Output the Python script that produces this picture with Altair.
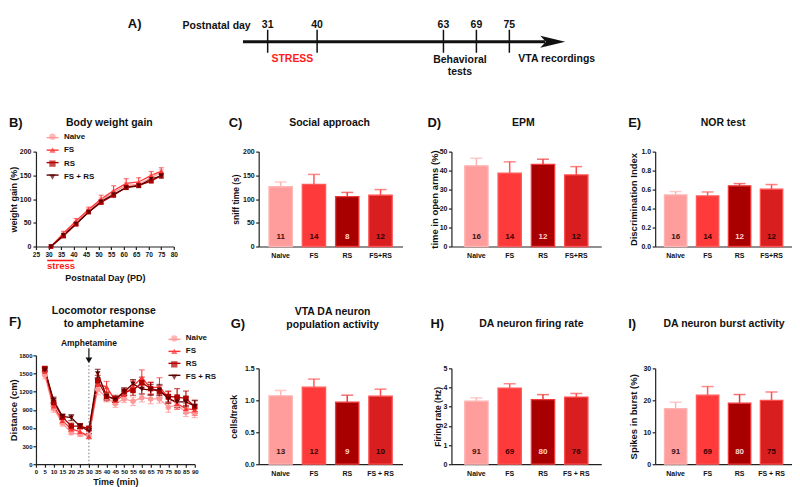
import altair as alt
import pandas as pd

FONT = "Liberation Sans"
INK = "#111111"
RED = "#FF1A1A"

# ---------------- A) timeline ----------------
tl_days = [31, 40, 63, 69, 75]
tl_arrow_span = [26.5, 81.5]
tl_arrow_tip = 82.9
tl_stress_mid = 35.5
tl_behav_day = 66
tl_vta_day = 75

# ---------------- B) body weight gain ----------------
groups = ["Naive", "FS", "RS", "FS + RS"]
b_days = [31, 36, 41, 46, 51, 56, 61, 66, 71, 75]
b_naive = [0, 26, 50, 76, 98, 114, 129, 131, 145, 156]
b_fs = [0, 28, 54, 78, 100, 118, 133, 136, 150, 159]
b_rs = [0, 22, 47, 73, 93, 108, 125, 129, 138, 150]
b_fsrs = [0, 24, 48, 72, 95, 110, 124, 128, 142, 149]
b_naive_e = [0, 3, 4, 4, 5, 5, 6, 6, 6, 6]
b_fs_e = [0, 4, 5, 5, 8, 10, 10, 9, 8, 7]
b_rs_e = [0, 3, 3, 3, 4, 4, 4, 4, 4, 5]
b_fsrs_e = [0, 3, 3, 3, 4, 4, 4, 4, 4, 5]
b_stress_span = [29.5, 40]
b_stress_mid = 35

# ---------------- F) locomotor response ----------------
f_time = [5, 10, 15, 20, 25, 30, 35, 40, 45, 50, 55, 60, 65, 70, 75, 80, 85, 90]
f_naive = [1470, 920, 680, 520, 490, 480, 1240, 1100, 1000, 1080, 1040, 1100, 1080, 1080, 940, 980, 860, 850]
f_fs = [1530, 960, 720, 580, 540, 460, 1320, 1280, 1050, 1150, 1290, 1430, 1260, 1280, 1100, 1000, 920, 900]
f_rs = [1580, 1020, 780, 630, 630, 590, 1380, 1120, 1080, 1200, 1220, 1350, 1250, 1200, 1120, 1110, 1090, 950]
f_fsrs = [1560, 1060, 790, 770, 630, 550, 1500, 1130, 1070, 1200, 1330, 1240, 1230, 1230, 1080, 1030, 1030, 960]
f_naive_e = [60, 60, 50, 30, 30, 30, 90, 70, 60, 60, 70, 70, 80, 70, 80, 70, 70, 80]
f_fs_e = [50, 60, 50, 40, 40, 40, 80, 90, 60, 60, 90, 130, 100, 150, 100, 90, 80, 90]
f_rs_e = [40, 60, 40, 50, 40, 40, 90, 70, 60, 60, 80, 90, 100, 100, 90, 140, 120, 110]
f_fsrs_e = [40, 50, 40, 50, 40, 40, 70, 60, 50, 60, 70, 80, 90, 90, 70, 90, 80, 90]
f_amph_time = 30

# ---------------- bar panels ----------------
top_cats = ["Naive", "FS", "RS", "FS+RS"]
bot_cats = ["Naive", "FS", "RS", "FS + RS"]
c_mean = [126, 131, 105, 108]
c_err = [10, 21, 9, 12]
c_n = [11, 14, 8, 12]
d_mean = [42.5, 38.6, 43.3, 37.7]
d_err = [4.0, 6.0, 2.7, 4.4]
d_n = [16, 14, 12, 12]
e_mean = [0.544, 0.533, 0.639, 0.604]
e_err = [0.035, 0.042, 0.024, 0.049]
e_n = [16, 14, 12, 12]
g_mean = [1.07, 1.206, 0.97, 1.064]
g_err = [0.084, 0.126, 0.11, 0.11]
g_n = [13, 12, 9, 10]
h_mean = [3.29, 3.97, 3.37, 3.50]
h_err = [0.17, 0.23, 0.26, 0.19]
h_n = [91, 69, 80, 76]
i_mean = [17.4, 21.6, 19.1, 20.0]
i_err = [2.0, 2.7, 2.7, 2.6]
i_n = [91, 69, 80, 75]

# ---------------- styles ----------------
LINE_COLORS = ["#FF9999", "#FF3535", "#B00000", "#5E0000"]
FILLS = ["#FF9C9C", "#FF3A3A", "#A80000", "#D81E1E"]
EDGES = ["#FFB4B4", "#FF5A5A", "#F03A3A", "#FF4E4E"]
NCOLS = ["#3A1212", "#3A0000", "#FFD2D2", "#2A0000"]
SHAPES = ["circle", "triangle-up", "square", "triangle-down"]
ARROW_HEAD = "M-1,-0.48L1,0L-1,0.48L-0.55,0Z"


def txt(text, x, y, size=10.5, align="center", color=INK):
    return alt.Chart(pd.DataFrame({"t": [text]})).mark_text(
        font=FONT, fontWeight="bold", fontSize=size, align=align,
        baseline="middle", color=color,
    ).encode(text="t:N", x=alt.value(x), y=alt.value(y))


def series_df(xs, series, errs):
    rows = []
    for g, c, vals, es in zip(groups, LINE_COLORS, series, errs):
        for x, v, e in zip(xs, vals, es):
            rows.append({"x": x, "group": g, "group2": g, "lc": c, "v": v, "lo": v - e, "hi": v + e})
    return pd.DataFrame(rows)


def line_layers(df, xs, xaxis, ys, yaxis, cap, psize, lx, ly, rowpad):
    base = alt.Chart(df)
    col = alt.Color("lc:N", scale=None)
    Xn = alt.X("x:Q", scale=xs, axis=xaxis)
    line_legend = alt.Legend(title=None, orient="none", legendX=lx - 2.84, legendY=ly - 2,
                             symbolType="stroke", symbolSize=144, symbolStrokeWidth=1.4,
                             labelExpr="''", labelFontSize=8, rowPadding=rowpad - 4,
                             padding=0)
    pt_legend = alt.Legend(title=None, orient="none", legendX=lx, legendY=ly,
                           symbolSize=40, labelOffset=7.5, rowPadding=rowpad,
                           labelFontSize=8, padding=0)
    lines = base.mark_line(strokeWidth=1.3).encode(
        x=Xn, y=alt.Y("v:Q", scale=ys, axis=yaxis),
        stroke=alt.Stroke("group2:N", sort=groups, scale=alt.Scale(range=LINE_COLORS),
                          legend=line_legend))
    err = base.mark_rule(strokeWidth=1.1).encode(
        x=Xn, y=alt.Y("lo:Q", scale=ys, axis=yaxis), y2="hi:Q", color=col)
    caphi = base.mark_tick(orient="horizontal", size=cap, thickness=1.1).encode(
        x=Xn, y=alt.Y("hi:Q", scale=ys, axis=yaxis), color=col)
    caplo = base.mark_tick(orient="horizontal", size=cap, thickness=1.1).encode(
        x=Xn, y=alt.Y("lo:Q", scale=ys, axis=yaxis), color=col)
    pts = base.mark_point(filled=True, size=psize, opacity=1).encode(
        x=Xn, y=alt.Y("v:Q", scale=ys, axis=yaxis),
        color=alt.Color("group:N", scale=alt.Scale(domain=groups, range=LINE_COLORS), legend=pt_legend),
        shape=alt.Shape("group:N", scale=alt.Scale(domain=groups, range=SHAPES), legend=pt_legend),
    )
    return [lines, err, caphi, caplo, pts]


# ---------- panel B ----------
bdf = series_df(b_days, [b_naive, b_fs, b_rs, b_fsrs], [b_naive_e, b_fs_e, b_rs_e, b_fsrs_e])
bx = alt.Scale(domain=[25, 80], nice=False, zero=False)
by = alt.Scale(domain=[0, 200], nice=False)
bx_vals = list(range(25, 81, 5))
by_vals = [0, 50, 100, 150, 200]
b_xaxis = alt.Axis(values=bx_vals, tickCount=len(bx_vals), title="Postnatal Day (PD)", titleY=27,
                   labelFontSize=6.5, titleFontSize=9, labelOverlap=False)
b_yaxis = alt.Axis(values=by_vals, tickCount=len(by_vals), title="weight gain (%)", titleX=-22.5,
                   titleBaseline="middle", titleFontSize=9, labelOverlap=False)
b_layers = line_layers(bdf, bx, b_xaxis, by, b_yaxis, 5, 22, 12.5, -19, 5.5)
stress_df = pd.DataFrame({"a": [b_stress_span[0]], "b": [b_stress_span[1]]})
b_stress_rule = alt.Chart(stress_df).mark_rule(color=RED, strokeWidth=1.6).encode(
    x=alt.X("a:Q", scale=bx, axis=b_xaxis), x2="b:Q", y=alt.value(109))
b_stress_txt = alt.Chart(pd.DataFrame({"t": ["stress"], "d": [b_stress_mid]})).mark_text(
    font=FONT, fontWeight="bold", fontSize=9.5, color=RED, baseline="middle").encode(
    text="t:N", x=alt.X("d:Q", scale=bx, axis=b_xaxis), y=alt.value(115))
b_data = alt.layer(
    *b_layers, b_stress_rule, b_stress_txt,
    txt("Body weight gain", 73.5, -29),
    txt("B)", -27, -29, size=13, align="left"),
    txt("A)", 92, -128, size=13, align="left"),
    txt("Postnatal day", 215, -126, size=10.5, align="right"),
)

# timeline (its own x scale, in days)
tlx = alt.Scale(domain=[31, 75], range=[232, 474], zero=False, nice=False)
tl_df = pd.DataFrame({"day": tl_days, "lab": [str(d) for d in tl_days]})
tl_arrow = alt.Chart(pd.DataFrame({"a": [tl_arrow_span[0]], "b": [tl_arrow_span[1]]})).mark_rule(
    color=INK, strokeWidth=3).encode(x=alt.X("a:Q", scale=tlx, axis=None), x2="b:Q", y=alt.value(-110))
tl_head = alt.Chart(pd.DataFrame({"d": [tl_arrow_tip]})).mark_point(
    shape=ARROW_HEAD, size=625, filled=True, color=INK, opacity=1).encode(
    x=alt.X("d:Q", scale=tlx, axis=None), y=alt.value(-110))
tl_ticks = alt.Chart(tl_df).mark_rule(color=INK, strokeWidth=1.5).encode(
    x=alt.X("day:Q", scale=tlx, axis=None), y=alt.value(-122), y2=alt.value(-99))
tl_labs = alt.Chart(tl_df).mark_text(font=FONT, fontWeight="bold", fontSize=10.5, baseline="middle", color=INK).encode(
    x=alt.X("day:Q", scale=tlx, axis=None), y=alt.value(-127), text="lab:N")


def tl_text(text, day, y, color=INK, align="center", dx=0):
    return alt.Chart(pd.DataFrame({"t": [text], "d": [day]})).mark_text(
        font=FONT, fontWeight="bold", fontSize=10.5, baseline="middle", color=color, align=align, dx=dx
    ).encode(text="t:N", x=alt.X("d:Q", scale=tlx, axis=None), y=alt.value(y))


timeline = alt.layer(
    tl_arrow, tl_head, tl_ticks, tl_labs,
    tl_text("STRESS", tl_stress_mid, -93, color=RED),
    tl_text("Behavioral", tl_behav_day, -92),
    tl_text("tests", tl_behav_day, -80),
    tl_text("VTA recordings", tl_vta_day, -93, align="left", dx=9),
)
B = alt.layer(b_data, timeline).resolve_scale(x="independent").properties(width=138, height=95)

# ---------- panel F ----------
fdf = series_df(f_time, [f_naive, f_fs, f_rs, f_fsrs], [f_naive_e, f_fs_e, f_rs_e, f_fsrs_e])
fx = alt.Scale(domain=[0, 90], nice=False, zero=True, range=[0, 159])
fy = alt.Scale(domain=[0, 1800], nice=False)
fx_vals = list(range(0, 91, 5))
fy_vals = list(range(0, 1801, 300))
f_xaxis = alt.Axis(values=fx_vals, tickCount=len(fx_vals), title="Time (min)", titleY=13,
                   labelFontSize=6, labelOverlap=False, labelPadding=1, titleFontSize=9)
f_yaxis = alt.Axis(values=fy_vals, tickCount=len(fy_vals), format="d", title="Distance (cm)",
                   titleX=-22.5, titleBaseline="middle", labelFontSize=6, labelPadding=1,
                   titleFontSize=9.5, labelOverlap=False)
f_layers = line_layers(fdf, fx, f_xaxis, fy, f_yaxis, 6, 30, 134.5, -21, 5)
amph_df = pd.DataFrame({"t": [f_amph_time], "lab": ["Amphetamine"]})
amph_dot = alt.Chart(amph_df).mark_rule(
    color="#777777", strokeWidth=1, strokeDash=[1.5, 2]).encode(
    x=alt.X("t:Q", scale=fx, axis=f_xaxis), y=alt.value(10), y2=alt.value(109))
amph_shaft = alt.Chart(amph_df).mark_rule(color=INK, strokeWidth=1.2).encode(
    x=alt.X("t:Q", scale=fx, axis=f_xaxis), y=alt.value(-7), y2=alt.value(3))
amph_head = alt.Chart(amph_df).mark_point(
    shape="triangle-down", size=45, filled=True, color=INK, opacity=1).encode(
    x=alt.X("t:Q", scale=fx, axis=f_xaxis), y=alt.value(5))
amph_txt = alt.Chart(amph_df).mark_text(
    font=FONT, fontWeight="bold", fontSize=8.5, baseline="middle", color=INK).encode(
    text="lab:N", x=alt.X("t:Q", scale=fx, axis=f_xaxis), y=alt.value(-12))
F = alt.layer(
    *f_layers, amph_dot, amph_shaft, amph_head, amph_txt,
    txt("Locomotor response", 68, -44),
    txt("to amphetamine", 68, -31),
    txt("F)", -27, -33, size=13, align="left"),
).properties(width=174, height=109)


# ---------- bar panels ----------
def bar_panel(cats, mean, err, n, ymax, yticks, fmt, ytitle, ytitle_x, ytitle_size,
              width, po, height, titles, letter, xrange=None, yrange=None, nfrac=0.095):
    df = pd.DataFrame({"cat": cats, "mean": mean, "err": err, "n": [str(v) for v in n]})
    df["top"] = df["mean"] + df["err"]
    base = alt.Chart(df)
    xs_kw = dict(domain=cats, paddingInner=0.3, paddingOuter=po)
    if xrange:
        xs_kw["range"] = xrange
    xs = alt.Scale(**xs_kw)
    xaxis = alt.Axis(title=None, labelAngle=0, ticks=False, labelPadding=5, labelFontSize=7)
    X = alt.X("cat:N", sort=cats, scale=xs, axis=xaxis)
    ys_kw = dict(domain=[0, ymax], nice=False, zero=True)
    if yrange:
        ys_kw["range"] = yrange
    ys = alt.Scale(**ys_kw)
    yaxis = alt.Axis(values=yticks, tickCount=len(yticks), format=fmt, title=ytitle,
                     titleX=ytitle_x, titleBaseline="middle", titleFontSize=ytitle_size,
                     labelPadding=1.5, labelFontSize=7, labelOverlap=False)
    fill = alt.Color("cat:N", scale=alt.Scale(domain=cats, range=FILLS), legend=None)
    edge_c = alt.Color("cat:N", scale=alt.Scale(domain=cats, range=EDGES), legend=None)
    edge_s = alt.Stroke("cat:N", scale=alt.Scale(domain=cats, range=EDGES), legend=None)
    bars = base.mark_bar(strokeWidth=1.3).encode(
        x=X, y=alt.Y("mean:Q", scale=ys, axis=yaxis), color=fill, stroke=edge_s)
    errs = base.mark_rule(strokeWidth=1.5).encode(
        x=X, y=alt.Y("mean:Q", scale=ys, axis=yaxis), y2="top:Q", color=edge_c)
    caps = base.mark_tick(orient="horizontal", size=12, thickness=1.5).encode(
        x=X, y=alt.Y("top:Q", scale=ys, axis=yaxis), color=edge_c)
    ntx = base.mark_text(font=FONT, fontWeight="bold", fontSize=8, baseline="middle").encode(
        x=X, y=alt.YDatum(ymax * nfrac, scale=ys, axis=yaxis), text="n:N",
        color=alt.Color("cat:N", scale=alt.Scale(domain=cats, range=NCOLS), legend=None))
    texts = [txt(t, tx, ty) for (t, tx, ty) in titles]
    texts.append(txt(letter[0], letter[1], letter[2], size=13, align="left"))
    return alt.layer(bars, errs, caps, ntx, *texts).resolve_scale(color="independent").properties(
        width=width, height=height)


C = bar_panel(top_cats, c_mean, c_err, c_n, 200, [0, 50, 100, 150, 200], "d",
              "sniff time (s)", -23, 8.5, 144, 0.31, 95,
              [("Social approach", 71, -29)], ("C)", -30, -29))
D = bar_panel(top_cats, d_mean, d_err, d_n, 50, [0, 10, 20, 30, 40, 50], "d",
              "time in open arms (%)", -17, 9.5, 155, 0.40, 95,
              [("EPM", 72, -29)], ("D)", -24, -29), xrange=[0, 150])
E = bar_panel(top_cats, e_mean, e_err, e_n, 1.0, [0, 0.2, 0.4, 0.6, 0.8, 1.0], ".1f",
              "Discrimination Index", -22, 9.5, 137, 0.29, 95,
              [("NOR test", 68, -29)], ("E)", -27, -29))
G = bar_panel(bot_cats, g_mean, g_err, g_n, 1.5, [0, 0.5, 1.0, 1.5], ".1f",
              "cells/track", -25, 9, 144, 0.31, 109,
              [("VTA DA neuron", 74, -43), ("population activity", 74, -30)], ("G)", -28, -31),
              yrange=[109, 13], nfrac=0.125)
H = bar_panel(bot_cats, h_mean, h_err, h_n, 5, [0, 1, 2, 3, 4, 5], "d",
              "Firing rate (Hz)", -14, 8.5, 155, 0.40, 109,
              [("DA neuron firing rate", 80, -31)], ("H)", -21, -31),
              xrange=[0, 150], yrange=[109, 13], nfrac=0.125)
I = bar_panel(bot_cats, i_mean, i_err, i_n, 30, [0, 10, 20, 30], "d",
              "Spikes in burst (%)", -22, 9.5, 137, 0.29, 109,
              [("DA neuron burst activity", 69, -31)], ("I)", -27, -31),
              yrange=[109, 13], nfrac=0.125)

chart = alt.ConcatChart(
    concat=[B, C, D, E, F, G, H, I], columns=4,
    spacing={"row": 109, "column": 49}, bounds="flush", align="each",
).resolve_scale(
    color="independent", stroke="independent", shape="independent",
    x="independent", y="independent",
).properties(
    padding={"left": 0, "top": 9.5, "right": 0, "bottom": 0}, background="white",
).configure_view(stroke=None).configure_axis(
    domainColor="#222222", domainWidth=1.2, tickColor="#222222", tickWidth=1.2, tickSize=3,
    labelColor=INK, labelFont=FONT, labelFontWeight="bold", labelFontSize=7, labelFlush=False,
    titleFont=FONT, titleFontWeight="bold", titleFontSize=9, titleColor=INK, grid=False,
    labelPadding=2,
).configure_legend(
    labelFont=FONT, labelFontWeight="bold", labelFontSize=8, labelColor=INK, padding=0,
)

chart.save("out.html", embed_options={"renderer": "svg", "actions": False})
